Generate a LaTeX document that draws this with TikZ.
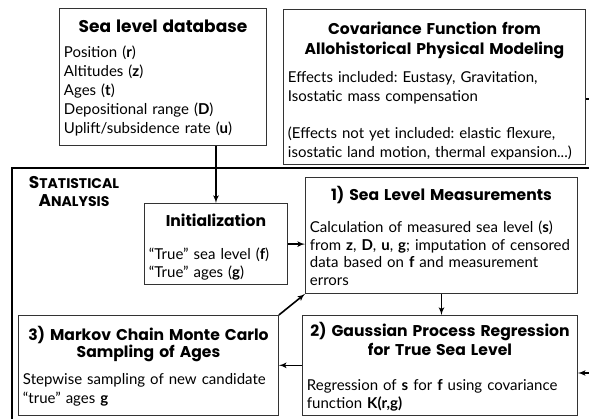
\documentclass[tikz,border=0pt]{standalone}
\usepackage{fontspec}
\setmainfont{Lato}
\newfontfamily\headfont{Poppins}
\usepackage{tikz}
\usetikzlibrary{arrows}
\frenchspacing
% heading line of a block, the optional value lifts its top and so pushes the text down
\newcommand{\boxhead}[2][0pt]{\hfill{\headfont\bfseries\fontsize{15.6}{18}\selectfont\raisebox{#1}{\vphantom{Ild}}#2}\hfill\null\\}
\newcommand{\fakesc}[2]{{\headfont\bfseries\fontsize{17}{18}\selectfont #1\fontsize{14}{18}\selectfont #2}}
\tikzset{
	block/.style = {draw=black!80, line width=0.9pt, rectangle, anchor=north west, inner sep=4pt, align=left, font=\fontsize{15}{18.5}\selectfont},
	frame/.style = {draw, line width=1.6pt},
	vec/.style = {line width=1.6pt, ->},
	output/.style = {coordinate}
}
\begin{document}
\begin{tikzpicture}[x=1pt, y=-1pt, >=latex']
    \useasboundingbox (0,0) rectangle (589,419);
    \clip (0,0) rectangle (589,419);
    % the outer frame of the analysis part, it runs past the picture
    \draw [frame] (12,168) rectangle (620,440);
    \node [align=center, font=\fontsize{14}{18}\selectfont] (stat) at (74,191)
        {\fakesc{S}{TATISTICAL}\\ \fakesc{A}{NALYSIS}};

    % We start by placing the blocks
    \node [block, minimum width=207pt, minimum height=137pt, text width=198pt] (db) at (59,8)
        {\hfill{\headfont\bfseries\fontsize{17}{18}\selectfont\raisebox{3pt}{\vphantom{Ild}}Sea level database}\hfill\null\\[6pt]
         Position (\textbf{r})\\[0.6pt] Altitudes (\textbf{z})\\[0.6pt] Ages (\textbf{t})\\[0.6pt]
         Depositional range (\textbf{D})\\[0.6pt] Uplift/subsidence rate (\textbf{u})};
    \node [block, minimum width=302pt, minimum height=147pt, text width=293pt] (cov) at (283,9)
        {\boxhead[10pt]{Covariance Function from}[1pt]\boxhead{Allohistorical Physical Modeling}[10pt]
         Effects included: Eustasy, Gravitation,\\ Isostatic mass compensation\\[19pt]
         (Effects not yet included: elastic flexure,\\ isostatic land motion, thermal expansion...)};
    \node [block, minimum width=143pt, minimum height=79pt, text width=134pt] (init) at (144,203)
        {\boxhead[8pt]{Initialization}[14pt]
         ``True'' sea level (\textbf{f})\\ ``True'' ages (\textbf{g})};
    \node [block, minimum width=272pt, minimum height=116pt, text width=263pt] (meas) at (305,177)
        {\boxhead{1) Sea Level Measurements}[14pt]
         Calculation of measured sea level (\textbf{s})\\[-1pt]
         from \textbf{z}, \textbf{D}, \textbf{u}, \textbf{g}; imputation of censored\\[-1pt]
         data based on \textbf{f} and measurement\\[-1pt] errors};
    \node [block, minimum width=275pt, minimum height=97pt, text width=266pt] (gpr) at (302,315)
        {\boxhead[6pt]{2) Gaussian Process Regression}\boxhead{for True Sea Level}[17pt]
         Regression of \textbf{s} for \textbf{f} using covariance\\[-1pt] function \textbf{K(r,g)}};
    \node [block, minimum width=260pt, minimum height=100pt, text width=251pt] (mcmc) at (18,315)
        {\boxhead[4pt]{3) Markov Chain Monte Carlo}[-2pt]\boxhead{Sampling of Ages}[9pt]
         Stepwise sampling of new candidate\\ ``true'' ages \textbf{g}};

    % free ends at the right border
    \coordinate [output] (covout) at (600,99);
    \coordinate [output] (gprin) at (600,373);

    % Once the nodes are placed, connecting them is easy.
    \draw [vec] (db.south -| init.north) -- (init.north);
    \draw [vec] (init.east) -- (init.east -| meas.west);
    \draw [vec] (meas.south) -- (meas.south |- gpr.north);
    \draw [vec] (gpr.west) -- (gpr.west -| mcmc.east);
    \draw [vec] (mcmc.north east) -- (meas.south west);
    \draw [line width=1.2pt] (covout -| cov.east) -- (covout);
    \draw [vec] (gprin) -- (gprin -| gpr.east);
\end{tikzpicture}
\end{document}
